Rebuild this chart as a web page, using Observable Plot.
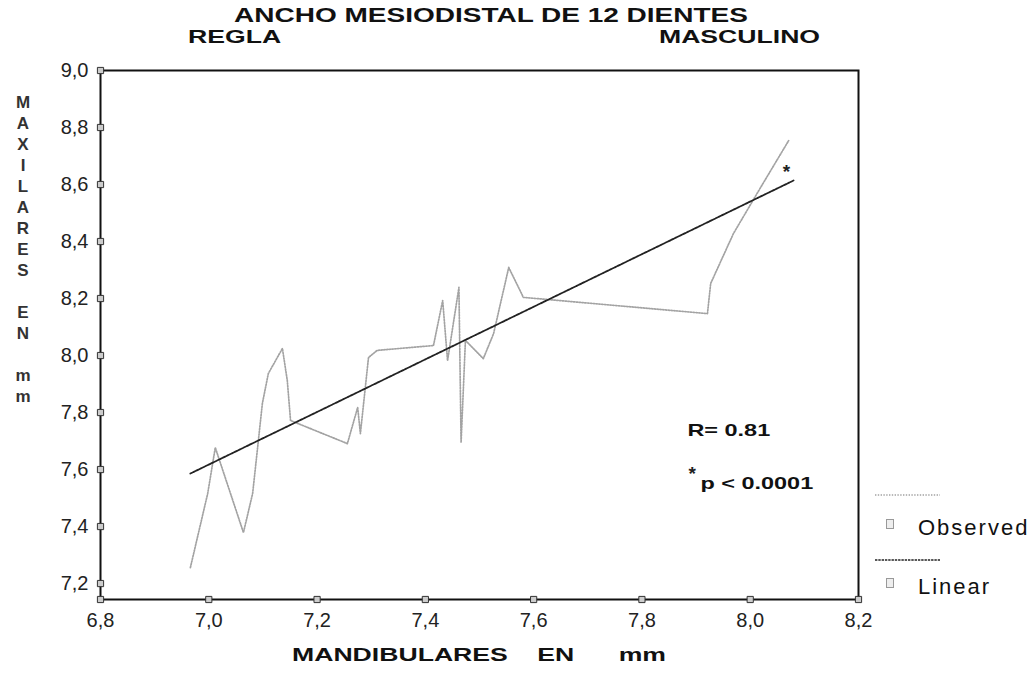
<!DOCTYPE html>
<html><head><meta charset="utf-8">
<script src="https://cdn.jsdelivr.net/npm/d3@7"></script>
<script src="https://cdn.jsdelivr.net/npm/@observablehq/plot@0.6"></script>
<style>
body{margin:0;background:#fff;}
#wrap{position:relative;width:1036px;height:673px;font-family:"Liberation Sans",Arial,sans-serif;color:#111;overflow:hidden;}
#wrap svg{position:absolute;left:0;top:0;}
.t{position:absolute;font-weight:bold;white-space:pre;line-height:1;color:#111;}
.leg{position:absolute;font-size:22px;letter-spacing:2px;white-space:pre;line-height:1;color:#111;}
</style></head><body><div id="wrap"></div>
<script>
// Observed curve (x = mandibulares mm, y = maxilares mm), in drawing order
const obsX = [6.966, 6.998, 7.012, 7.064, 7.081, 7.099, 7.110, 7.136, 7.145, 7.151, 7.256, 7.275, 7.280, 7.295, 7.311, 7.415, 7.432, 7.441, 7.462, 7.466, 7.474, 7.507, 7.526, 7.554, 7.581, 7.921, 7.927, 7.969, 8.019, 8.071];
const obsY = [7.256, 7.516, 7.677, 7.379, 7.516, 7.832, 7.937, 8.025, 7.912, 7.772, 7.691, 7.818, 7.726, 7.993, 8.018, 8.035, 8.193, 7.982, 8.239, 7.695, 8.053, 7.989, 8.077, 8.309, 8.204, 8.147, 8.253, 8.428, 8.589, 8.754];
// Linear fit end points
const linX = [6.966, 8.080];
const linY = [7.586, 8.614];
// Ticks
const xTicks = [6.8, 7.0, 7.2, 7.4, 7.6, 7.8, 8.0, 8.2];
const yTicks = [7.2, 7.4, 7.6, 7.8, 8.0, 8.2, 8.4, 8.6, 8.8, 9.0];
// Annotations (data coordinates)
const notes = [
  {x: 7.884, y: 7.737, text: "R= 0.81"},
  {x: 7.908, y: 7.551, text: "p < 0.0001"}
];
const starNotes = [
  {x: 7.886, y: 7.585, text: "*"},
  {x: 8.060, y: 8.645, text: "*"}
];

const observed = obsX.map((x, i) => ({x, y: obsY[i]}));
const linear = linX.map((x, i) => ({x, y: linY[i]}));
const fmt = d => d.toFixed(1).replace(".", ",");

const chart = Plot.plot({
  width: 1036, height: 673,
  marginLeft: 100, marginRight: 178, marginTop: 70, marginBottom: 74,
  style: {fontFamily: '"Liberation Sans", Arial, sans-serif', fontSize: "20px", color: "#222", background: "transparent"},
  x: {domain: [6.8, 8.2], ticks: xTicks, tickFormat: fmt, tickSize: 0, tickPadding: 13, label: null},
  y: {domain: [7.144, 9.0], ticks: yTicks, tickFormat: fmt, tickSize: 0, tickPadding: 12, label: null},
  marks: [
    Plot.line(observed, {x: "x", y: "y", stroke: "#a3a3a3", strokeWidth: 1.7, strokeDasharray: "1.4 1.4"}),
    Plot.line(linear, {x: "x", y: "y", stroke: "#222", strokeWidth: 1.8, strokeDasharray: "2.4 0.9"}),
    Plot.text(notes, {x: "x", y: "y", text: "text", textAnchor: "start", fontWeight: "bold", fontSize: 17, fill: "#111"}),
    Plot.text(starNotes, {x: "x", y: "y", text: "text", textAnchor: "start", fontWeight: "bold", fontSize: 19, fill: "#222"}),
    Plot.frame({stroke: "#111", strokeWidth: 2}),
    Plot.dot(xTicks, {x: d => d, frameAnchor: "bottom", symbol: "square", r: 3.5, stroke: "#333", fill: "#ccc", strokeWidth: 1}),
    Plot.dot(yTicks, {y: d => d, frameAnchor: "left", symbol: "square", r: 3.5, stroke: "#333", fill: "#ccc", strokeWidth: 1})
  ]
});

const wrap = document.getElementById("wrap");
wrap.appendChild(chart);

// widen the bold annotation texts like the reference's stretched lettering
const noteTexts = new Set(notes.map(n => n.text));
chart.querySelectorAll("text").forEach(t => {
  if (!noteTexts.has(t.textContent)) return;
  const len = t.getComputedTextLength();
  if (len > 0) {
    t.setAttribute("textLength", (len * 1.38).toFixed(1));
    t.setAttribute("lengthAdjust", "spacingAndGlyphs");
  }
});

function addText(txt, css) {
  const d = document.createElement("div");
  d.className = "t";
  d.textContent = txt;
  Object.assign(d.style, css);
  wrap.appendChild(d);
  return d;
}
addText("ANCHO MESIODISTAL DE 12 DIENTES", {left: "491px", top: "5px", fontSize: "20px", transformOrigin: "center", transform: "translateX(-50%) scaleX(1.4)"});
addText("REGLA", {left: "188px", top: "27px", fontSize: "19px", transformOrigin: "left", transform: "scaleX(1.4)"});
addText("MASCULINO", {right: "216px", top: "27px", fontSize: "19px", transformOrigin: "right", transform: "scaleX(1.4)"});
addText("MANDIBULARES    EN      mm", {left: "479px", top: "645px", fontSize: "19px", transformOrigin: "center", transform: "translateX(-50%) scaleX(1.4)"});

// Stacked y-axis title
const yLetters = ["M","A","X","I","L","A","R","E","S","","E","N","","m","m"];
const ylab = document.createElement("div");
Object.assign(ylab.style, {position: "absolute", left: "12px", top: "92px", width: "22px", textAlign: "center", fontSize: "17px", fontWeight: "bold", lineHeight: "21px", color: "#333"});
yLetters.forEach(l => { const s = document.createElement("div"); s.textContent = l || "\u00a0"; ylab.appendChild(s); });
wrap.appendChild(ylab);

// Legend
const legItems = [
  {label: "Observed", color: "#a3a3a3", dash: "1.4 1.4", lineY: 495, textY: 517},
  {label: "Linear", color: "#222", dash: "2.4 0.9", lineY: 560, textY: 576}
];
legItems.forEach(it => {
  const s = document.createElementNS("http://www.w3.org/2000/svg", "svg");
  s.setAttribute("width", "80"); s.setAttribute("height", "6");
  s.style.position = "absolute"; s.style.left = "872px"; s.style.top = (it.lineY - 3) + "px";
  const ln = document.createElementNS("http://www.w3.org/2000/svg", "line");
  ln.setAttribute("x1", "3"); ln.setAttribute("x2", "68"); ln.setAttribute("y1", "3"); ln.setAttribute("y2", "3");
  ln.setAttribute("stroke", it.color); ln.setAttribute("stroke-width", "1.6"); ln.setAttribute("stroke-dasharray", it.dash);
  s.appendChild(ln); wrap.appendChild(s);
  const m = document.createElement("div");
  Object.assign(m.style, {position: "absolute", left: "886px", top: (it.textY + 2) + "px", width: "6px", height: "8px", border: "1px solid #999", background: "#eee"});
  wrap.appendChild(m);
  const t = document.createElement("div");
  t.className = "leg"; t.textContent = it.label;
  t.style.left = "918px"; t.style.top = it.textY + "px";
  wrap.appendChild(t);
});
</script>
</body></html>
